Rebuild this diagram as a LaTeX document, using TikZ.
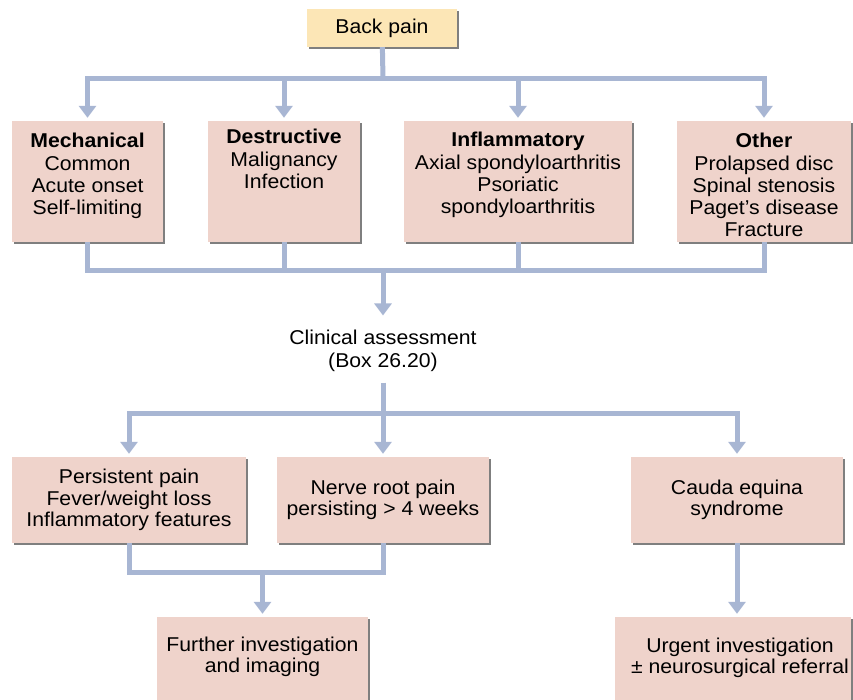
\documentclass[tikz,border=0pt]{standalone}
\usepackage{fontspec}
\setmainfont{Liberation Sans}[FakeStretch=1.06]
\usetikzlibrary{arrows.meta,shadows}
\definecolor{boxfill}{HTML}{EFD3CB}
\definecolor{bpfill}{HTML}{FCE6B6}
\definecolor{linec}{HTML}{A8B6D3}
\definecolor{shadc}{HTML}{7F7F7F}
\begin{document}
\begin{tikzpicture}[x=1pt,y=-1pt,
  every node/.style={font=\fontsize{20}{21.5}\selectfont, inner sep=0pt, align=center},
  box/.style={fill=boxfill, drop shadow={shadow xshift=2pt,shadow yshift=-2pt,fill=shadc,opacity=1}},
  bpbox/.style={fill=bpfill, drop shadow={shadow xshift=2pt,shadow yshift=-2pt,fill=shadc,opacity=1}},
  ln/.style={draw=linec, line width=5pt},
  arr/.style={ln, -{Triangle[width=17pt,length=12pt]}, shorten >=3pt}]
\useasboundingbox (0,0) rectangle (853,700);
\fill[white] (0,0) rectangle (853,700);
\clip (0,0) rectangle (853,700);

% top
\node[bpbox, minimum width=150pt, minimum height=38pt] (bp) at (382,28) {Back pain};

% row 1 boxes
\node[box, minimum width=151pt, minimum height=121pt] (mech) at (87.5,181.5) {};
\node[box, minimum width=152pt, minimum height=121pt] (destr) at (284,181.5) {};
\node[box, minimum width=228pt, minimum height=121pt] (infl) at (518,181.5) {};
\node[box, minimum width=174pt, minimum height=121pt] (other) at (764,181.5) {};

\node[anchor=north, font=\fontsize{20}{22}\selectfont] (mecht) at (87.5,133) {\textbf{Mechanical}\\[1pt]Common\\Acute onset\\Self-limiting};
\node[anchor=north, font=\fontsize{20}{22}\selectfont] (destrt) at (284,129) {\textbf{Destructive}\\[1pt]Malignancy\\Infection};
\node[anchor=north, font=\fontsize{20}{22}\selectfont] (inflt) at (518,132) {\textbf{Inflammatory}\\[1pt]Axial spondyloarthritis\\Psoriatic\\spondyloarthritis};
\node[anchor=north, font=\fontsize{20}{22}\selectfont] (othert) at (764,133) {\textbf{Other}\\[1pt]Prolapsed disc\\Spinal stenosis\\Paget’s disease\\Fracture};

% clinical assessment
\node[inner ysep=11pt, font=\fontsize{20}{23}\selectfont] (clin) at (383,350.5) {Clinical assessment\\(Box 26.20)};

% row 2
\node[box, minimum width=234pt, minimum height=86pt] (pers) at (129,500) {Persistent pain\\Fever/weight loss\\Inflammatory features};
\node[box, minimum width=212pt, minimum height=86pt] (nerve) at (383,500) {Nerve root pain\\persisting > 4 weeks};
\node[box, minimum width=212pt, minimum height=86pt] (cauda) at (737,500) {Cauda equina\\syndrome};

% row 3
\node[box, minimum width=211pt, minimum height=100pt] (furth) at (262.5,667) {};
\node (furtht) at (262.5,657) {Further investigation\\and imaging};
\node[box, minimum width=236pt, minimum height=100pt] (urg) at (733,667) {};
\node (urgt) at (740,658) {Urgent investigation\\± neurosurgical referral};

% connectors
\coordinate (tj) at (383,79);
\coordinate (bj) at (383,271);
\coordinate (mj) at (383,413);
\coordinate (fj) at (262.5,572);

\draw[ln] (bp) -- (tj);
\draw[arr] (tj) -| (mech);
\draw[arr] (tj) -| (destr);
\draw[arr] (tj) -| (infl);
\draw[arr] (tj) -| (other);

\draw[ln] (mech) |- (bj);
\draw[ln] (destr) |- (bj);
\draw[ln] (infl) |- (bj);
\draw[ln] (other) |- (bj);
\draw[arr] (bj) -- (clin);

\draw[ln] (clin) -- (mj);
\draw[arr] (mj) -| (pers);
\draw[arr] (mj) -- (nerve);
\draw[arr] (mj) -| (cauda);

\draw[ln] (pers) |- (fj);
\draw[ln] (nerve) |- (fj);
\draw[arr] (fj) -- (furth);
\draw[arr] (cauda) -- (cauda |- urg.north);
\end{tikzpicture}
\end{document}
